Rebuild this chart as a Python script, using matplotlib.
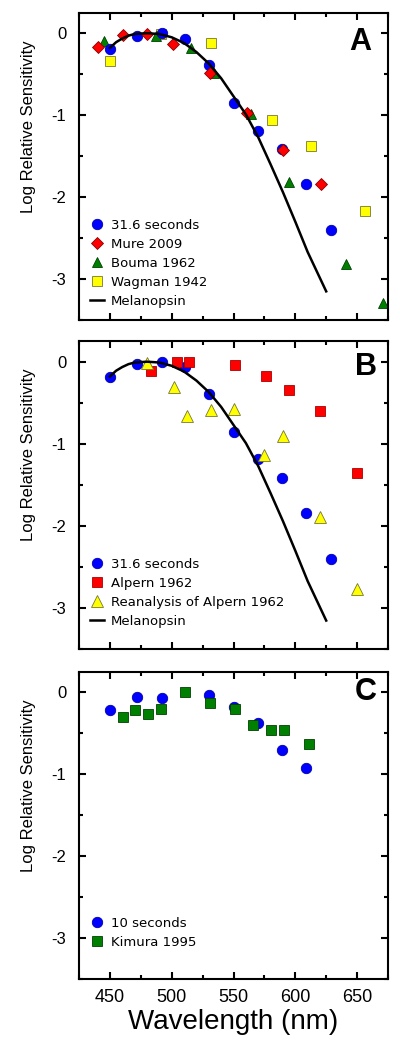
import matplotlib
matplotlib.use("Agg")
import matplotlib.pyplot as plt
from matplotlib.ticker import MultipleLocator

plt.rcParams['font.family'] = ['Liberation Sans', 'DejaVu Sans']
plt.rcParams['axes.unicode_minus'] = False

# ---- data ----
# 31.6 s criterion (panels A and B)
t316_wl = [450, 472, 492, 511, 530, 550, 570, 589, 609, 629]
t316_log = [-0.19, -0.03, 0.0, -0.07, -0.39, -0.85, -1.19, -1.41, -1.84, -2.40]

mure_wl = [440, 461, 480, 501, 531, 561, 590, 621]
mure_log = [-0.17, -0.02, -0.01, -0.13, -0.49, -0.97, -1.43, -1.84]

bouma_wl = [445, 487, 516, 534, 564, 595, 641, 671]
bouma_log = [-0.09, -0.04, -0.18, -0.49, -0.99, -1.82, -2.82, -3.29]

wagman_wl = [450, 491, 532, 581, 613, 656]
wagman_log = [-0.34, -0.01, -0.125, -1.06, -1.38, -2.17]

alpern_wl = [483, 504, 514, 551, 576, 595, 620, 650]
alpern_log = [-0.11, 0.0, 0.0, -0.04, -0.18, -0.34, -0.60, -1.35]

reanal_wl = [480, 502, 512, 532, 550, 575, 590, 620, 650]
reanal_log = [-0.01, -0.31, -0.66, -0.59, -0.57, -1.14, -0.90, -1.89, -2.76]

# 10 s criterion (panel C)
t10_wl = [450, 472, 492, 530, 550, 570, 589, 609]
t10_log = [-0.22, -0.06, -0.065, -0.03, -0.18, -0.37, -0.70, -0.93]

kimura_wl = [461, 470, 481, 491, 511, 531, 551, 566, 580, 591, 611]
kimura_log = [-0.30, -0.22, -0.26, -0.21, 0.0, -0.13, -0.20, -0.40, -0.46, -0.46, -0.635]

# melanopsin template
mel_wl = [450, 455, 460, 465, 470, 480, 490, 500, 510, 520, 530, 540, 550,
          560, 570, 580, 590, 600, 610, 620, 625]
mel_log = [-0.18, -0.11, -0.065, -0.03, -0.01, 0.0, -0.01, -0.05, -0.12, -0.23, -0.37, -0.55, -0.77,
           -0.99, -1.27, -1.60, -1.94, -2.30, -2.67, -2.99, -3.15]

BLUE, RED, GREEN, YELLOW = '#0000ff', '#ff0000', '#008000', '#ffff00'


def style_axes(ax, show_x):
    ax.set_xlim(425, 675)
    ax.set_ylim(-3.5, 0.25)
    ax.xaxis.set_major_locator(MultipleLocator(50))
    ax.xaxis.set_minor_locator(MultipleLocator(25))
    ax.yaxis.set_major_locator(MultipleLocator(1))
    ax.yaxis.set_minor_locator(MultipleLocator(0.5))
    ax.tick_params(which='both', direction='in', top=True, right=True, width=1.5)
    ax.tick_params(which='major', length=5)
    ax.tick_params(which='minor', length=3)
    ax.tick_params(axis='y', labelsize=12, pad=9)
    ax.tick_params(axis='x', labelsize=13, pad=7, labelbottom=show_x)
    for s in ax.spines.values():
        s.set_linewidth(1.5)
    ax.set_ylabel('Log Relative Sensitivity', fontsize=12)
    ax.yaxis.set_label_coords(-0.139, 0.63)


def add_legend(ax, y, handles=None, labels=None):
    args = [] if handles is None else [handles, labels]
    ax.legend(*args, loc='lower left', bbox_to_anchor=(0.035, y), frameon=False,
              prop={'family': 'DejaVu Sans', 'size': 9.5}, handlelength=1.1,
              handletextpad=0.5, labelspacing=0.45, borderpad=0,
              borderaxespad=0, numpoints=1)


fig = plt.figure(figsize=(4, 10.5), dpi=100)
left, width = 0.1975, 0.7725
axA = fig.add_axes([left, 0.6952, width, 0.2927])
axB = fig.add_axes([left, 0.3816, width, 0.2935])
axC = fig.add_axes([left, 0.0673, width, 0.2930])

mk = dict(linestyle='none', markeredgewidth=0.6)

# Panel A
axA.plot(wagman_wl, wagman_log, 's', ms=7, mfc=YELLOW, mec='#777733', label='Wagman 1942', **mk)
axA.plot(bouma_wl, bouma_log, '^', ms=7.5, mfc=GREEN, mec='#004000', label='Bouma 1962', **mk)
axA.plot(t316_wl, t316_log, 'o', ms=7.5, mfc=BLUE, mec='#0000aa', label='31.6 seconds', **mk)
axA.plot(mure_wl, mure_log, 'D', ms=6.5, mfc=RED, mec='#880000', label='Mure 2009', **mk)
axA.plot(mel_wl, mel_log, '-', color='black', lw=1.8, label='Melanopsin', zorder=5)
style_axes(axA, False)
h, l = axA.get_legend_handles_labels()
order = ['31.6 seconds', 'Mure 2009', 'Bouma 1962', 'Wagman 1942', 'Melanopsin']
add_legend(axA, 0.04, [h[l.index(o)] for o in order], order)
axA.text(0.947, 0.904, 'A', transform=axA.transAxes, ha='right', va='center',
         fontsize=22, fontweight='bold')

# Panel B
axB.plot(t316_wl, t316_log, 'o', ms=7.5, mfc=BLUE, mec='#0000aa', label='31.6 seconds', **mk)
axB.plot(alpern_wl, alpern_log, 's', ms=7, mfc=RED, mec='#aa0000', label='Alpern 1962', **mk)
axB.plot(reanal_wl, reanal_log, '^', ms=8, mfc=YELLOW, mec='#777733',
         label='Reanalysis of Alpern 1962', **mk)
axB.plot(mel_wl, mel_log, '-', color='black', lw=1.8, label='Melanopsin', zorder=5)
style_axes(axB, False)
add_legend(axB, 0.07)
axB.text(0.963, 0.917, 'B', transform=axB.transAxes, ha='right', va='center',
         fontsize=22, fontweight='bold')

# Panel C
axC.plot(t10_wl, t10_log, 'o', ms=7.5, mfc=BLUE, mec='#0000aa', label='10 seconds', **mk)
axC.plot(kimura_wl, kimura_log, 's', ms=7, mfc=GREEN, mec='#004000', label='Kimura 1995', **mk)
style_axes(axC, True)
add_legend(axC, 0.1)
axC.text(0.963, 0.934, 'C', transform=axC.transAxes, ha='right', va='center',
         fontsize=22, fontweight='bold')
axC.set_xlabel('Wavelength (nm)', fontsize=20, labelpad=2)

fig.savefig('out.png', dpi=100)
